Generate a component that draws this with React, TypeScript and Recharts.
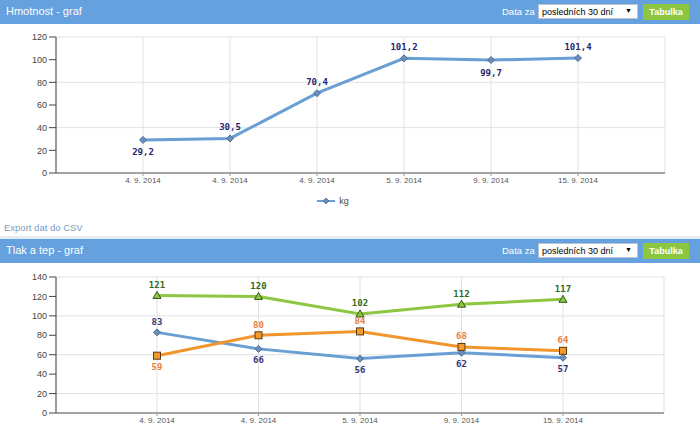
import React from 'react';
import { LineChart, Line, XAxis, YAxis, CartesianGrid, LabelList, Legend } from 'recharts';

const weightDates = ['4. 9. 2014', '4. 9. 2014', '4. 9. 2014', '5. 9. 2014', '9. 9. 2014', '15. 9. 2014'];
const weightKg = [29.2, 30.5, 70.4, 101.2, 99.7, 101.4];
const weightTicks = [0, 20, 40, 60, 80, 100, 120];

const pressureDates = ['4. 9. 2014', '4. 9. 2014', '5. 9. 2014', '9. 9. 2014', '15. 9. 2014'];
const systolic = [121, 120, 102, 112, 117];
const diastolic = [83, 66, 56, 62, 57];
const pulse = [59, 80, 84, 68, 64];
const pressureTicks = [0, 20, 40, 60, 80, 100, 120, 140];

// label placement (style)
const weightLabelPos = ['bottom', 'top', 'top', 'top', 'bottom', 'top'];
const systolicLabelPos = ['top', 'top', 'top', 'top', 'top'];
const diastolicLabelPos = ['top', 'bottom', 'bottom', 'bottom', 'bottom'];
const pulseLabelPos = ['bottom', 'top', 'top', 'top', 'top'];

const weightData = weightDates.map((d, i) => ({ date: d, kg: weightKg[i] }));
const pressureData = pressureDates.map((d, i) => ({
  date: d,
  systolic: systolic[i],
  diastolic: diastolic[i],
  pulse: pulse[i],
}));

const BLUE = '#6a9fd3';
const ORANGE = '#f0962d';
const GREEN = '#8dc642';
const SANS = '"Liberation Sans", Arial, sans-serif';
const MONO = '"DejaVu Sans Mono", monospace';

const fmt = (v: number) => String(v).replace('.', ',');

const makeLabel = (positions: string[], color: string, up: number, down: number) => (props: any) => {
  const { x, y, index, value } = props;
  const pos = positions[index];
  return (
    <text
      x={x}
      y={pos === 'top' ? y - up : y + down}
      textAnchor="middle"
      fill={color}
      fontSize={9}
      fontWeight="bold"
      fontFamily={MONO}
    >
      {fmt(value)}
    </text>
  );
};

const Diamond = (props: any) => {
  const { cx, cy } = props;
  if (cx == null || cy == null) return null;
  const r = 3.5;
  return (
    <polygon
      points={`${cx},${cy - r} ${cx + r},${cy} ${cx},${cy + r} ${cx - r},${cy}`}
      fill="#6b8fb9"
      stroke="#4d6f96"
      strokeWidth={1}
    />
  );
};

const Square = (props: any) => {
  const { cx, cy } = props;
  if (cx == null || cy == null) return null;
  return <rect x={cx - 3.5} y={cy - 3.5} width={7} height={7} fill="#f39a2e" stroke="#5c3a0c" strokeWidth={1} />;
};

const Triangle = (props: any) => {
  const { cx, cy } = props;
  if (cx == null || cy == null) return null;
  return (
    <polygon
      points={`${cx},${cy - 4} ${cx + 4},${cy + 3} ${cx - 4},${cy + 3}`}
      fill="#8dc642"
      stroke="#2f5a14"
      strokeWidth={1}
    />
  );
};

const Header = ({ title, top }: { title: string; top: number }) => (
  <div
    style={{
      position: 'absolute',
      left: 0,
      top,
      width: 700,
      height: 24,
      background: '#64a1de',
      color: '#fff',
      fontFamily: SANS,
    }}
  >
    <div style={{ position: 'absolute', left: 6, top: 5, fontSize: 11 }}>{title}</div>
    <div style={{ position: 'absolute', left: 502, top: 6, fontSize: 9.5 }}>Data za</div>
    <div
      style={{
        position: 'absolute',
        left: 538,
        top: 4,
        width: 100,
        height: 15,
        background: '#fff',
        border: '1px solid #b8c4d0',
        boxSizing: 'border-box',
        color: '#000',
        fontSize: 9,
      }}
    >
      <span style={{ position: 'absolute', left: 3, top: 2 }}>posledních 30 dní</span>
      <span style={{ position: 'absolute', right: 5, top: 2, fontSize: 7 }}>▼</span>
    </div>
    <div
      style={{
        position: 'absolute',
        left: 643,
        top: 4,
        width: 46,
        height: 16,
        background: '#8cc63e',
        color: '#fff',
        fontWeight: 'bold',
        fontSize: 9,
        textAlign: 'center',
        lineHeight: '16px',
      }}
    >
      Tabulka
    </div>
  </div>
);

const WeightLegend = () => (
  <div style={{ display: 'flex', justifyContent: 'center', alignItems: 'center', height: 20, fontFamily: SANS }}>
    <svg width={20} height={10} style={{ marginRight: 3 }}>
      <line x1={1} y1={5} x2={19} y2={5} stroke={BLUE} strokeWidth={2} />
      <polygon points="10,2 13,5 10,8 7,5" fill="#6b8fb9" stroke="#4d6f96" strokeWidth={0.8} />
    </svg>
    <span style={{ fontSize: 9, color: '#444' }}>kg</span>
  </div>
);

const axisTick = { fontSize: 9, fill: '#444', fontFamily: SANS };
const xTick = { fontSize: 8, fill: '#555', fontFamily: SANS };

export default function App() {
  return (
    <div
      style={{
        position: 'absolute',
        left: 0,
        top: 0,
        width: 700,
        height: 436,
        background: '#fff',
        overflow: 'hidden',
        fontFamily: SANS,
      }}
    >
      <Header title="Hmotnost - graf" top={0} />
      <div style={{ position: 'absolute', left: 0, top: 24 }}>
        <LineChart width={700} height={200} data={weightData} margin={{ top: 13, right: 35, left: 0, bottom: 13 }}>
          <CartesianGrid stroke="#e2e2e2" />
          <XAxis
            dataKey="date"
            padding={{ left: 87, right: 87 }}
            height={18}
            tick={xTick}
            tickSize={3}
            tickMargin={1}
            axisLine={{ stroke: '#555' }}
            tickLine={{ stroke: '#999' }}
          />
          <YAxis
            width={56}
            domain={[0, 120]}
            ticks={weightTicks}
            tick={axisTick}
            tickSize={7}
            tickMargin={2}
            axisLine={{ stroke: '#444' }}
            tickLine={{ stroke: '#444' }}
          />
          <YAxis yAxisId="edge" orientation="right" width={0} tick={false} tickLine={false} axisLine={{ stroke: '#dcdcdc' }} />
          <Legend verticalAlign="bottom" height={20} content={() => <WeightLegend />} />
          <Line
            type="linear"
            dataKey="kg"
            name="kg"
            stroke={BLUE}
            strokeWidth={3}
            dot={<Diamond />}
            activeDot={false}
            isAnimationActive={false}
          >
            <LabelList dataKey="kg" content={makeLabel(weightLabelPos, '#262673', 8.5, 15.5)} />
          </Line>
        </LineChart>
      </div>

      <div
        style={{ position: 'absolute', left: 4, top: 222, fontSize: 9.5, color: '#7d9bbf', fontFamily: SANS }}
      >
        Export dat do CSV
      </div>
      <div style={{ position: 'absolute', left: 0, top: 236, width: 700, height: 3, background: '#e3edf8' }} />

      <Header title="Tlak a tep - graf" top={239} />
      <div style={{ position: 'absolute', left: 0, top: 263 }}>
        <LineChart width={700} height={173} data={pressureData} margin={{ top: 14, right: 36, left: 0, bottom: 3 }}>
          <CartesianGrid stroke="#e2e2e2" />
          <XAxis
            dataKey="date"
            padding={{ left: 101, right: 101 }}
            height={20}
            tick={xTick}
            tickSize={3}
            tickMargin={1}
            axisLine={{ stroke: '#555' }}
            tickLine={{ stroke: '#999' }}
          />
          <YAxis
            width={56}
            domain={[0, 140]}
            ticks={pressureTicks}
            tick={axisTick}
            tickSize={7}
            tickMargin={2}
            axisLine={{ stroke: '#444' }}
            tickLine={{ stroke: '#444' }}
          />
          <YAxis yAxisId="edge" orientation="right" width={0} tick={false} tickLine={false} axisLine={{ stroke: '#dcdcdc' }} />
          <Line
            type="linear"
            dataKey="diastolic"
            stroke={BLUE}
            strokeWidth={3}
            dot={<Diamond />}
            activeDot={false}
            isAnimationActive={false}
          >
            <LabelList dataKey="diastolic" content={makeLabel(diastolicLabelPos, '#33337a', 7.5, 14.5)} />
          </Line>
          <Line
            type="linear"
            dataKey="pulse"
            stroke={ORANGE}
            strokeWidth={3}
            dot={<Square />}
            activeDot={false}
            isAnimationActive={false}
          >
            <LabelList dataKey="pulse" content={makeLabel(pulseLabelPos, '#e9803e', 7.5, 14.5)} />
          </Line>
          <Line
            type="linear"
            dataKey="systolic"
            stroke={GREEN}
            strokeWidth={3}
            dot={<Triangle />}
            activeDot={false}
            isAnimationActive={false}
          >
            <LabelList dataKey="systolic" content={makeLabel(systolicLabelPos, '#2e6b1a', 7.5, 14.5)} />
          </Line>
        </LineChart>
      </div>
    </div>
  );
}
